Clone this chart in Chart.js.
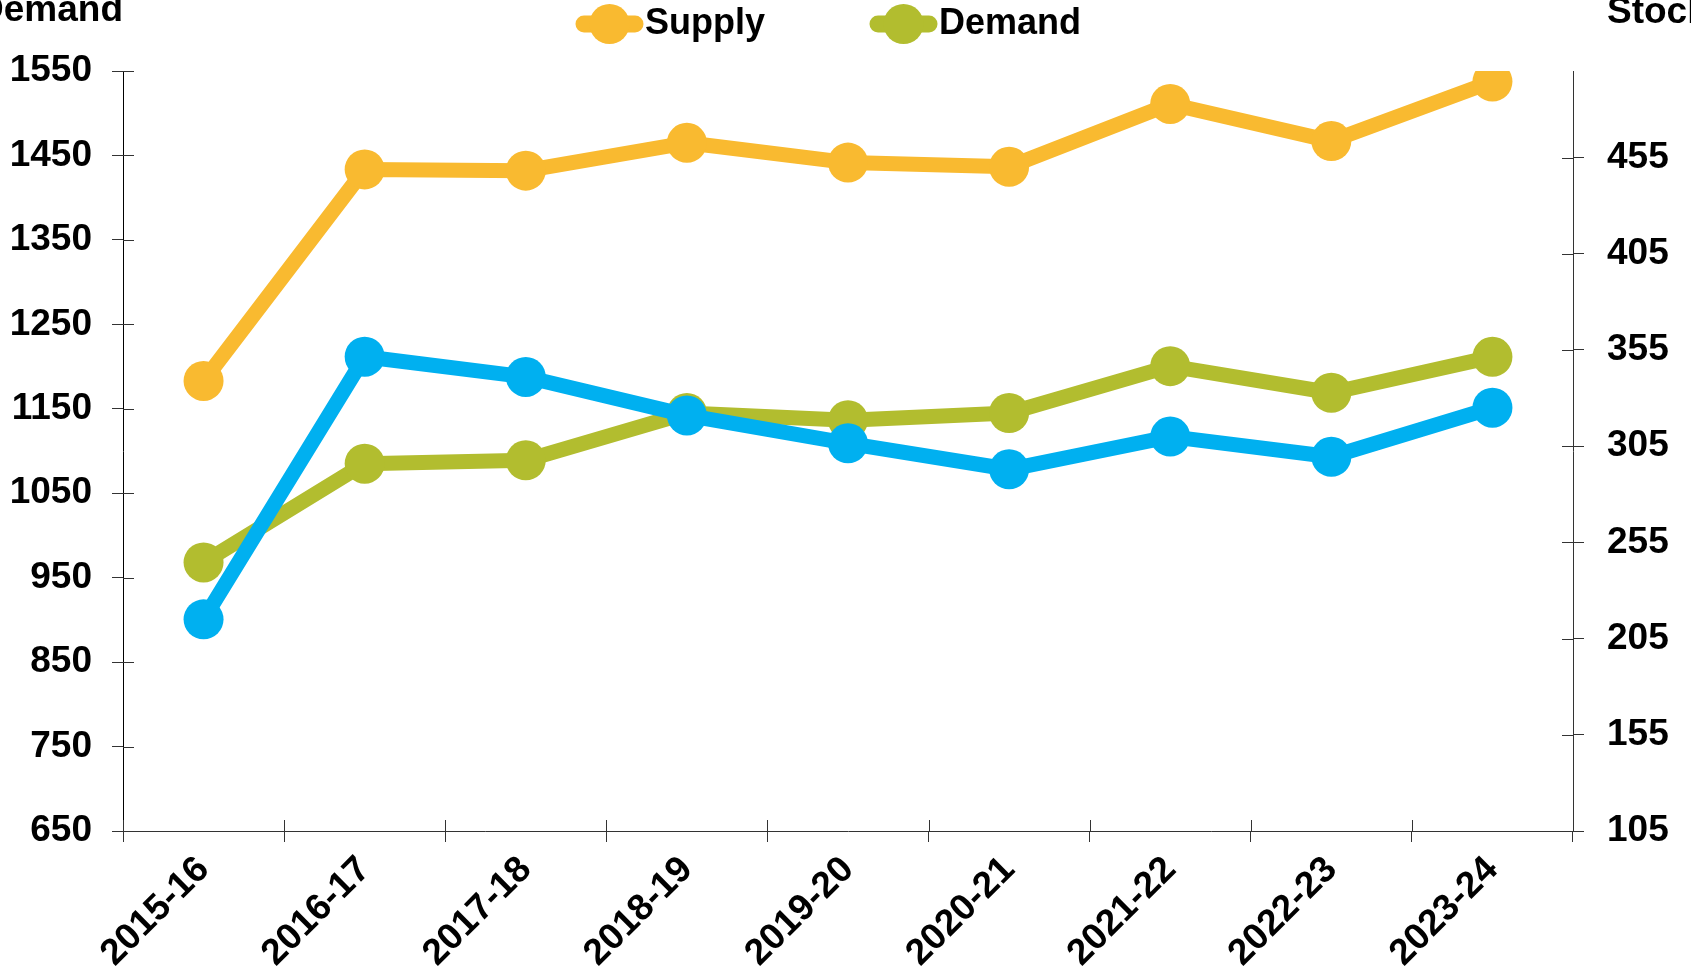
<!DOCTYPE html>
<html lang="en">
  <head>
    <meta charset="UTF-8" />
    <meta name="viewport" content="width=device-width, initial-scale=1.0" />
    <title>Supply, Demand and Stock</title>
    <style>
      html,
      body {
        margin: 0;
        padding: 0;
        background: #fff;
      }
      .chartBox {
        width: 1691px;
        height: 975px;
      }
    </style>
  </head>
  <body>
    <div class="chartBox">
      <canvas id="myChart"></canvas>
    </div>
    <script src="https://cdn.jsdelivr.net/npm/chart.js"></script>
    <script>
      const years = ["2015-16", "2016-17", "2017-18", "2018-19", "2019-20", "2020-21", "2021-22", "2022-23", "2023-24"];
      const supply = [1183, 1433.5, 1432, 1465, 1441.5, 1436.5, 1511, 1467, 1537.5];
      const demand = [968, 1085, 1089, 1145, 1136.5, 1145, 1200.5, 1169, 1211.5];
      const stock = [215, 351.5, 341, 321, 306.5, 293, 310, 299.5, 325];
      const demandTicks = [650, 750, 850, 950, 1050, 1150, 1250, 1350, 1450, 1550];
      const stockTicks = [105, 155, 205, 255, 305, 355, 405, 455];
      const leftTitle = "Demand";
      const rightTitle = "Stock";

      const fontFamily = '"Liberation Sans", Arial, sans-serif';
      Chart.defaults.font.family = fontFamily;
      Chart.defaults.font.size = 37;
      Chart.defaults.font.weight = "bold";
      Chart.defaults.color = "#000";

      const TICK = 11;

      // tick marks that cross the axis line (Excel style), inner half
      const crossTicks = {
        id: "crossTicks",
        beforeDatasetsDraw(chart) {
          const { ctx, scales } = chart;
          const { x, y, y2 } = scales;
          ctx.save();
          ctx.lineWidth = 1;
          ctx.strokeStyle = "#333";
          ctx.beginPath();
          y.ticks.forEach((t, i) => {
            const p = Math.round(y.getPixelForTick(i)) + 0.5;
            ctx.moveTo(y.right, p);
            ctx.lineTo(y.right + TICK, p);
          });
          y2.ticks.forEach((t, i) => {
            const p = Math.round(y2.getPixelForTick(i)) + 0.5;
            ctx.moveTo(y2.left, p);
            ctx.lineTo(y2.left - TICK, p);
          });
          for (let i = 0; i <= years.length; i++) {
            const p = Math.round(x.getPixelForValue(i - 0.5)) + 0.5;
            ctx.moveTo(p, x.top);
            ctx.lineTo(p, x.top - TICK);
          }
          ctx.stroke();
          ctx.restore();
        },
      };

      // legend (line + marker) and the two horizontal axis titles
      const legendAndTitles = {
        id: "legendAndTitles",
        afterDraw(chart) {
          const { ctx, scales } = chart;
          ctx.save();
          ctx.font = `bold 36px ${fontFamily}`;
          ctx.textBaseline = "alphabetic";
          let lx = 576;
          const ly = 24;
          chart.data.datasets.forEach((ds) => {
            if (ds.inLegend === false) return;
            ctx.strokeStyle = ds.borderColor;
            ctx.lineWidth = 17;
            ctx.lineCap = "round";
            ctx.beginPath();
            ctx.moveTo(lx + 8, ly);
            ctx.lineTo(lx + 59, ly);
            ctx.stroke();
            ctx.fillStyle = ds.pointBackgroundColor;
            ctx.beginPath();
            ctx.arc(lx + 33.5, ly, 20, 0, Math.PI * 2);
            ctx.fill();
            ctx.fillStyle = "#000";
            ctx.textAlign = "left";
            ctx.fillText(ds.label, lx + 69, 34);
            lx += 69 + ctx.measureText(ds.label).width + 105;
          });
          ctx.font = `bold 37px ${fontFamily}`;
          ctx.textAlign = "right";
          ctx.fillText(leftTitle, scales.y.right, 21);
          ctx.textAlign = "left";
          ctx.fillText(rightTitle, scales.y2.left + TICK + 23, 23);
          ctx.restore();
        },
      };

      const ctx = document.getElementById("myChart").getContext("2d");
      const myChart = new Chart(ctx, {
        type: "line",
        data: {
          labels: years,
          datasets: [
            {
              label: "Stock",
              data: stock,
              yAxisID: "y2",
              borderColor: "#00B0F0",
              pointBackgroundColor: "#00B0F0",
              inLegend: false,
            },
            {
              label: "Supply",
              data: supply,
              yAxisID: "y",
              borderColor: "#F9BA30",
              pointBackgroundColor: "#F9BA30",
            },
            {
              label: "Demand",
              data: demand,
              yAxisID: "y",
              borderColor: "#B2BD2F",
              pointBackgroundColor: "#B2BD2F",
            },
          ],
        },
        options: {
          responsive: true,
          maintainAspectRatio: false,
          animation: false,
          layout: { padding: { top: 71, left: 0, right: 0, bottom: 0 } },
          elements: {
            line: { borderWidth: 15, tension: 0, borderJoinStyle: "round", borderCapStyle: "round" },
            point: { radius: 20, hoverRadius: 20, borderWidth: 0 },
          },
          plugins: {
            legend: { display: false },
            tooltip: { enabled: false },
          },
          scales: {
            x: {
              offset: true,
              grid: { offset: true, drawOnChartArea: false, tickLength: TICK, color: "#333" },
              border: { color: "#333", width: 1 },
              ticks: { minRotation: 45, maxRotation: 45, autoSkip: false, padding: 6 },
              afterFit(scale) {
                scale.height = 144;
              },
            },
            y: {
              position: "left",
              min: 650,
              max: 1550,
              grid: { drawOnChartArea: false, tickLength: TICK, color: "#333" },
              border: { color: "#000", width: 1 },
              ticks: { padding: 20, callback: (v) => String(v) },
              afterBuildTicks(scale) {
                scale.ticks = demandTicks.map((v) => ({ value: v }));
              },
              afterFit(scale) {
                scale.width = 123;
              },
            },
            y2: {
              position: "right",
              min: 105,
              max: 500,
              grid: { drawOnChartArea: false, tickLength: TICK, color: "#333" },
              border: { color: "#333", width: 1 },
              ticks: { padding: 23, callback: (v) => String(v) },
              afterBuildTicks(scale) {
                scale.ticks = stockTicks.map((v) => ({ value: v }));
              },
              afterFit(scale) {
                scale.width = 118;
              },
            },
          },
        },
        plugins: [crossTicks, legendAndTitles],
      });
    </script>
  </body>
</html>
